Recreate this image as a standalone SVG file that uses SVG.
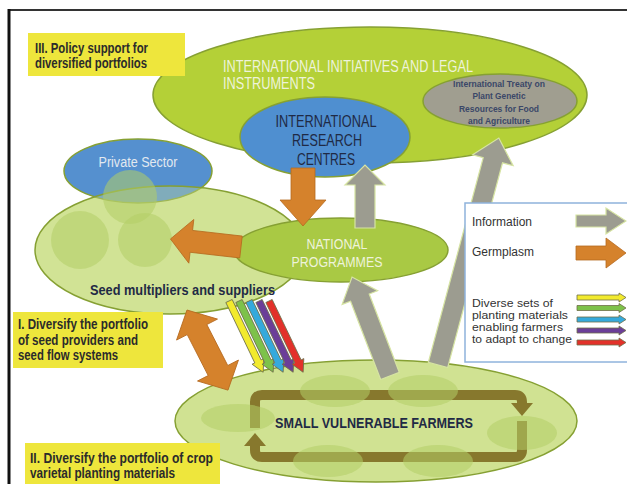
<svg xmlns="http://www.w3.org/2000/svg" width="627" height="484" viewBox="0 0 627 484">
  <style>
    .lbl { font-family: "Liberation Sans", Arial, sans-serif; }
    .b { font-weight: bold; }
    .navy { fill: #1f2a45; }
    .pale { fill: #eef3da; }
    .note { fill: #2b2b2b; font-weight: bold; font-size: 14px; }
    .leg { fill: #333; font-size: 12px; }
    .legs { fill: #333; font-size: 10.5px; }
    .edge { stroke: #86a033; stroke-width: 1.5; }
    .orange { fill: #d5822c; stroke: #b56a1f; stroke-width: 0.8; }
    .gray { fill: #9c9c90; stroke: #d6e4a2; stroke-width: 1.2; }
    .thin { stroke: #6f6f4a; stroke-width: 0.8; }
    .blob { fill: #b2cd66; opacity: 0.55; }
    .loop { fill: none; stroke: #87782d; stroke-width: 10; }
    .ybox { fill: #eee63c; }
  </style>

  <!-- frame -->
  <g id="frame">
    <rect x="0" y="0" width="627" height="484" fill="#ffffff"/>
    <line x1="8" y1="10" x2="627" y2="10" stroke="#333" stroke-width="2"/>
    <line x1="9" y1="9" x2="9" y2="484" stroke="#111" stroke-width="3"/>
  </g>

  <!-- international initiatives -->
  <g id="intl">
    <ellipse cx="370" cy="95" rx="217" ry="68" fill="#b4d037" class="edge"/>
    <text class="lbl pale" x="223" y="72" font-size="16" textLength="250" lengthAdjust="spacingAndGlyphs">INTERNATIONAL INITIATIVES AND LEGAL</text>
    <text class="lbl pale" x="223" y="89" font-size="16" textLength="92" lengthAdjust="spacingAndGlyphs">INSTRUMENTS</text>
  </g>

  <g id="treaty">
    <ellipse cx="500" cy="101" rx="77" ry="27" fill="#a09e90" class="edge"/>
    <g class="lbl b" font-size="9.5" fill="#3a4768" text-anchor="middle">
      <text x="499" y="87" textLength="92" lengthAdjust="spacingAndGlyphs">International Treaty on</text>
      <text x="499" y="99" textLength="53" lengthAdjust="spacingAndGlyphs">Plant Genetic</text>
      <text x="499" y="112" textLength="80" lengthAdjust="spacingAndGlyphs">Resources for Food</text>
      <text x="499" y="124" textLength="62" lengthAdjust="spacingAndGlyphs">and Agriculture</text>
    </g>
  </g>

  <g id="irc">
    <ellipse cx="325" cy="137" rx="85" ry="40" fill="#4f8fd0" class="edge"/>
    <g class="lbl navy" font-size="17" text-anchor="middle">
      <text x="326" y="127" textLength="101" lengthAdjust="spacingAndGlyphs">INTERNATIONAL</text>
      <text x="327" y="146" textLength="70" lengthAdjust="spacingAndGlyphs">RESEARCH</text>
      <text x="326" y="165" textLength="58" lengthAdjust="spacingAndGlyphs">CENTRES</text>
    </g>
  </g>

  <!-- seed multipliers with private sector -->
  <g id="seed">
    <ellipse cx="170" cy="250" rx="135" ry="64" fill="#d2e396"/>
  </g>
  <g id="private">
    <ellipse cx="138" cy="171" rx="74" ry="32" fill="#5590cf" class="edge"/>
    <text class="lbl" x="138" y="167" font-size="14" fill="#e2e9f0" text-anchor="middle" textLength="79" lengthAdjust="spacingAndGlyphs">Private Sector</text>
  </g>
  <g id="seed-overlay">
    <ellipse cx="170" cy="250" rx="135" ry="64" fill="#d2e396" fill-opacity="0.35" class="edge"/>
    <circle cx="130" cy="197" r="27" class="blob"/>
    <circle cx="80" cy="240" r="29" class="blob"/>
    <circle cx="145" cy="240" r="27" class="blob"/>
    <text class="lbl b navy" x="90" y="295" font-size="15" textLength="185" lengthAdjust="spacingAndGlyphs">Seed multipliers and suppliers</text>
  </g>

  <g id="national">
    <ellipse cx="341" cy="250" rx="107" ry="32" fill="#a9c944" class="edge"/>
    <g class="lbl pale" font-size="14" text-anchor="middle">
      <text x="337" y="249" textLength="61" lengthAdjust="spacingAndGlyphs">NATIONAL</text>
      <text x="337" y="267" textLength="91" lengthAdjust="spacingAndGlyphs">PROGRAMMES</text>
    </g>
  </g>

  <!-- farmers with exchange loop -->
  <g id="farmers">
    <ellipse cx="376" cy="421" rx="201" ry="61" fill="#d0e292" class="edge"/>
    <path class="loop" d="M255,428 V402 Q255,395 262,395 H515 Q522,395 522,402 V404"/>
    <polygon points="511,403 533,403 522,416" fill="#87782d"/>
    <path class="loop" d="M522,421 V450 Q522,457 515,457 H262 Q255,457 255,450 V446"/>
    <polygon points="244,446 266,446 255,433" fill="#87782d"/>
    <ellipse cx="238" cy="418" rx="37" ry="14" class="blob"/>
    <ellipse cx="335" cy="391" rx="35" ry="16" class="blob"/>
    <ellipse cx="423" cy="391" rx="35" ry="16" class="blob"/>
    <ellipse cx="522" cy="433" rx="35" ry="17" class="blob"/>
    <ellipse cx="328" cy="461" rx="35" ry="16" class="blob"/>
    <ellipse cx="438" cy="461" rx="35" ry="16" class="blob"/>
    <text class="lbl b navy" x="275" y="428" font-size="15" textLength="198" lengthAdjust="spacingAndGlyphs">SMALL VULNERABLE FARMERS</text>
  </g>

  <!-- flows -->
  <g id="connectors">
    <polygon class="gray" points="0,-10 43,-10 43,-20 63,0 43,20 43,10 0,10" transform="translate(365,228) rotate(-90)"/>
    <polygon class="gray" points="0,-10 84,-10 84,-19 106,0 84,19 84,10 0,10" transform="translate(390,376) rotate(-111)"/>
    <polygon class="gray" points="0,-10 212,-10 212,-21 235,0 212,21 212,10 0,10" transform="translate(438,365) rotate(-75)"/>
    <polygon class="orange" points="0,-12 32,-12 32,-23 58,0 32,23 32,12 0,12" transform="translate(303,168) rotate(90)"/>
    <polygon class="orange" points="0,-11 50,-11 50,-22 71,0 50,22 50,11 0,11" transform="translate(241,247) rotate(186.5)"/>
    <polygon class="orange" points="0,0 22,-23 22,-11 68,-11 68,-23 90,0 68,23 68,11 22,11 22,23" transform="translate(187,310) rotate(62.9)"/>
    <g class="thin">
      <polygon fill="#f2ea2e" points="0,-3.5 67,-3.5 67,-6.5 79,0 67,6.5 67,3.5 0,3.5" transform="translate(229,301) rotate(64.4)"/>
      <polygon fill="#7dc24a" points="0,-3.5 67,-3.5 67,-6.5 79,0 67,6.5 67,3.5 0,3.5" transform="translate(239,301) rotate(64.4)"/>
      <polygon fill="#35a9dc" points="0,-3.5 67,-3.5 67,-6.5 79,0 67,6.5 67,3.5 0,3.5" transform="translate(249,301) rotate(64.4)"/>
      <polygon fill="#6b3e98" points="0,-3.5 67,-3.5 67,-6.5 79,0 67,6.5 67,3.5 0,3.5" transform="translate(259,301) rotate(64.4)"/>
      <polygon fill="#e2312a" points="0,-3.5 67,-3.5 67,-6.5 79,0 67,6.5 67,3.5 0,3.5" transform="translate(269,301) rotate(64.4)"/>
    </g>
  </g>

  <!-- legend -->
  <g id="legend">
    <rect x="465" y="203" width="170" height="159" fill="#ffffff" stroke="#8fb3dc" stroke-width="1.5"/>
    <text class="lbl leg" x="472" y="226">Information</text>
    <text class="lbl leg" x="472" y="256">Germplasm</text>
    <text class="lbl legs" x="472" y="307" textLength="81" lengthAdjust="spacingAndGlyphs">Diverse sets of</text>
    <text class="lbl legs" x="472" y="319" textLength="96" lengthAdjust="spacingAndGlyphs">planting  materials</text>
    <text class="lbl legs" x="472" y="331" textLength="91" lengthAdjust="spacingAndGlyphs">enabling farmers</text>
    <text class="lbl legs" x="472" y="343" textLength="100" lengthAdjust="spacingAndGlyphs">to adapt to change</text>
    <polygon class="gray" points="576,215 606,215 606,208 626,221 606,234 606,227 576,227"/>
    <polygon class="orange" points="576,246 606,246 606,238 626,253 606,268 606,260 576,260"/>
    <g class="thin">
      <polygon fill="#f2ea2e" points="577,295 619,295 619,293 626,297.5 619,302 619,300 577,300"/>
      <polygon fill="#7dc24a" points="577,305.5 619,305.5 619,303.5 626,308 619,312.5 619,310.5 577,310.5"/>
      <polygon fill="#35a9dc" points="577,317 619,317 619,315 626,319.5 619,324 619,322 577,322"/>
      <polygon fill="#6b3e98" points="577,328 619,328 619,326 626,330.5 619,335 619,333 577,333"/>
      <polygon fill="#e2312a" points="577,340 619,340 619,338 626,342.5 619,347 619,345 577,345"/>
    </g>
  </g>

  <!-- policy notes -->
  <g id="note-policy">
    <rect class="ybox" x="28" y="33" width="157" height="43"/>
    <text class="lbl note" x="35" y="53" textLength="113" lengthAdjust="spacingAndGlyphs">III. Policy support for</text>
    <text class="lbl note" x="35" y="68" textLength="112" lengthAdjust="spacingAndGlyphs">diversified portfolios</text>
  </g>
  <g id="note-providers">
    <rect class="ybox" x="13" y="312" width="150" height="56"/>
    <text class="lbl note" x="18" y="329" textLength="130" lengthAdjust="spacingAndGlyphs">I. Diversify the portfolio</text>
    <text class="lbl note" x="18" y="345" textLength="120" lengthAdjust="spacingAndGlyphs">of seed providers and</text>
    <text class="lbl note" x="18" y="360" textLength="100" lengthAdjust="spacingAndGlyphs">seed flow systems</text>
  </g>
  <g id="note-varieties">
    <rect class="ybox" x="25" y="443" width="195" height="45"/>
    <text class="lbl note" x="30" y="463" textLength="183" lengthAdjust="spacingAndGlyphs">II. Diversify the portfolio of crop</text>
    <text class="lbl note" x="30" y="478" textLength="145" lengthAdjust="spacingAndGlyphs">varietal planting materials</text>
  </g>
</svg>
